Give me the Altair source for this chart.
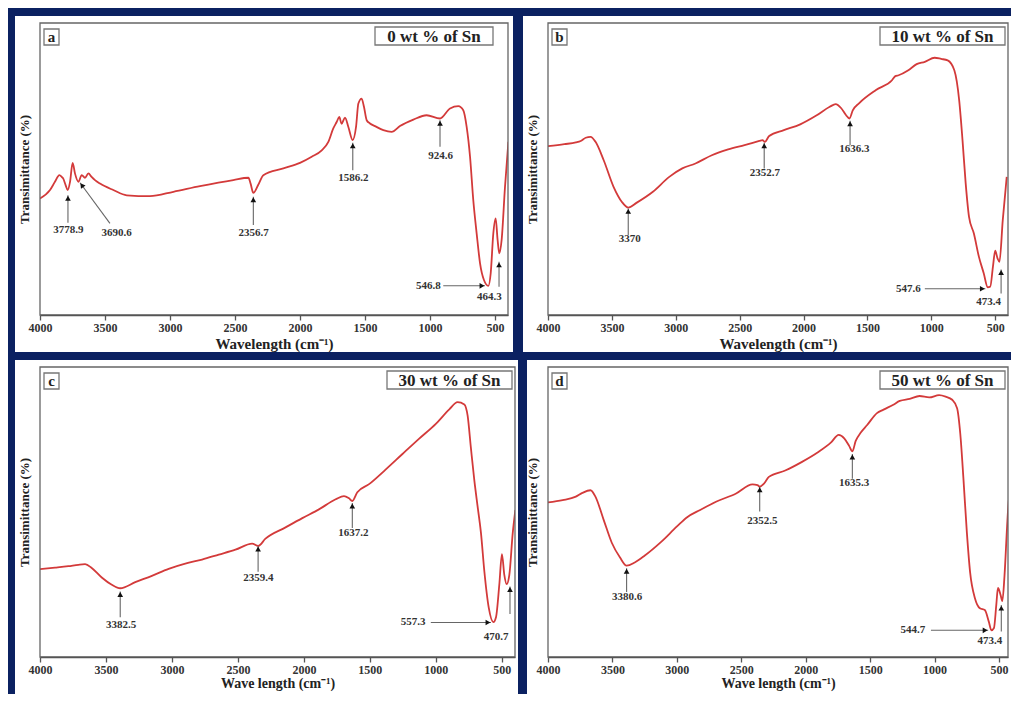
import altair as alt
import pandas as pd

FONT = "Liberation Serif"
NAVY = "#0b2161"
RED = "#d33a3a"

# ---------------- panel a : 0 wt % of Sn ----------------
a_wn = [4000, 3923, 3885, 3851, 3833, 3821, 3803, 3787, 3769, 3749, 3731, 3705, 3679, 3654,
        3628, 3603, 3577, 3538, 3436, 3333, 3154, 2974, 2769, 2513, 2397, 2380, 2359, 2321,
        2282, 2128, 2000, 1910, 1833, 1782, 1744, 1718, 1698, 1680, 1654, 1628, 1595, 1569,
        1551, 1526, 1508, 1487, 1462, 1423, 1359, 1295, 1231, 1128, 1026, 923, 846, 782,
        744, 718, 692, 667, 641, 615, 585, 551, 533, 513, 495, 480, 467, 449, 423, 397]
a_tr = [39.9, 42.8, 45.6, 47.9, 47.3, 46.7, 44.5, 42.8, 45.6, 52.1, 48.5, 45.6, 47.9, 47.0,
        48.5, 47.3, 46.2, 45.0, 42.8, 41.0, 40.7, 42.2, 44.1, 46.2, 47.0, 45.0, 41.8, 44.6,
        47.9, 50.2, 52.1, 54.2, 56.4, 59.3, 63.9, 66.1, 67.8, 65.5, 67.6, 64.4, 59.9, 64.4,
        72.4, 74.1, 71.3, 66.7, 65.6, 64.7, 63.3, 62.7, 64.7, 66.9, 68.4, 67.3, 70.7, 71.5,
        70.1, 64.4, 54.2, 39.3, 27.9, 17.7, 12.0, 10.0, 14.3, 27.9, 33.1, 25.7, 21.1, 25.7, 43.9, 59.3]
a_v_label = ["3778.9", "2356.7", "1586.2", "924.6", "464.3"]
a_v_tipx = [3785, 2359, 1594, 923, 469]
a_v_tipy = [41.0, 40.5, 59.0, 66.7, 18.2]
a_v_base = [31.6, 30.8, 49.6, 57.6, 9.7]
a_v_labx = [3782, 2356, 1590, 918, 544]
a_v_laby = [29.1, 28.2, 46.8, 54.4, 6.3]
a_h_label = ["546.8"]
a_h_labx = [1013]
a_h_start = [898]
a_h_tip = [577]
a_h_y = [10.0]
a_d_label = ["3690.6"]
a_d_tipx = [3692]
a_d_tipy = [45.3]
a_d_basex = [3462]
a_d_basey = [31.4]
a_d_labx = [3410]
a_d_laby = [28.2]

# ---------------- panel b : 10 wt % of Sn ----------------
b_wn = [4000, 3872, 3782, 3744, 3705, 3667, 3628, 3564, 3487, 3423, 3372, 3308, 3179, 3051,
        2949, 2846, 2718, 2590, 2462, 2346, 2321, 2303, 2269, 2154, 2026, 1897, 1795, 1749,
        1705, 1667, 1641, 1615, 1564, 1436, 1308, 1282, 1256, 1180, 1115, 1051, 974, 923,
        872, 820, 782, 756, 731, 705, 667, 628, 590, 559, 539, 518, 500, 482, 467, 441, 410]
b_tr = [57.8, 58.5, 59.1, 59.6, 60.7, 61.0, 59.3, 53.0, 43.9, 38.8, 36.8, 38.4, 42.2, 47.3,
        50.2, 51.9, 54.7, 56.7, 58.2, 59.6, 59.9, 59.3, 61.3, 63.3, 65.3, 68.4, 71.3, 72.2,
        70.8, 68.4, 67.3, 70.1, 72.6, 77.0, 80.4, 81.8, 82.1, 83.8, 85.9, 86.7, 88.1, 87.7,
        87.2, 83.8, 73.5, 59.9, 45.0, 33.6, 27.9, 20.0, 14.3, 9.5, 9.7, 16.5, 22.0, 19.4, 18.2, 32.5, 47.3]
b_v_label = ["3370", "2352.7", "1636.3", "473.4"]
b_v_tipx = [3372, 2308, 1636, 454]
b_v_tipy = [36.5, 59.0, 66.5, 15.6]
b_v_base = [27.4, 50.2, 58.2, 7.4]
b_v_labx = [3360, 2303, 1603, 551]
b_v_laby = [25.9, 48.7, 56.7, 4.6]
b_h_label = ["547.6"]
b_h_labx = [1180]
b_h_start = [1051]
b_h_tip = [577]
b_h_y = [9.0]

# ---------------- panel c : 30 wt % of Sn ----------------
c_wn = [4000, 3886, 3785, 3709, 3658, 3608, 3532, 3456, 3392, 3278, 3152, 3025, 2899, 2772,
        2645, 2519, 2392, 2347, 2291, 2139, 2012, 1886, 1759, 1696, 1658, 1633, 1595, 1506,
        1379, 1253, 1126, 1000, 898, 835, 784, 759, 734, 708, 683, 658, 632, 599, 564, 544,
        519, 499, 481, 463, 443, 417, 397]
c_tr = [30.3, 30.8, 31.3, 31.8, 32.0, 30.7, 27.4, 24.9, 23.7, 25.8, 28.0, 30.4, 32.2, 33.6,
        35.3, 37.0, 39.1, 38.3, 40.8, 44.7, 47.9, 50.9, 54.4, 55.5, 54.7, 53.8, 56.8, 59.6,
        64.7, 70.0, 75.3, 80.4, 85.4, 87.9, 87.1, 83.2, 72.0, 60.8, 51.8, 42.8, 29.4, 17.0, 12.0, 13.7,
        24.9, 35.5, 28.3, 25.1, 28.3, 42.8, 50.7]
c_v_label = ["3382.5", "2359.4", "1637.2", "470.7"]
c_v_tipx = [3392, 2347, 1633, 438]
c_v_tipy = [22.6, 38.3, 53.1, 24.3]
c_v_base = [13.7, 29.4, 44.5, 14.8]
c_v_labx = [3385, 2345, 1625, 544]
c_v_laby = [11.2, 27.1, 42.6, 7.0]
c_h_label = ["557.3"]
c_h_labx = [1172]
c_h_start = [1038]
c_h_tip = [582]
c_h_y = [11.9]

# ---------------- panel d : 50 wt % of Sn ----------------
d_wn = [4000, 3886, 3784, 3733, 3670, 3632, 3568, 3505, 3441, 3390, 3327, 3251, 3124, 2997,
        2920, 2819, 2692, 2540, 2413, 2374, 2357, 2324, 2286, 2159, 2032, 1905, 1803, 1744,
        1701, 1663, 1638, 1612, 1574, 1523, 1447, 1396, 1320, 1270, 1193, 1117, 1041, 965,
        914, 863, 825, 800, 775, 749, 724, 686, 648, 610, 579, 559, 539, 521, 508, 487, 474,
        457, 437, 426, 415]
d_tr = [53.3, 54.1, 55.3, 56.6, 57.5, 55.3, 47.3, 39.4, 34.3, 31.5, 32.6, 34.9, 39.6, 45.1,
        48.2, 50.7, 53.6, 56.4, 59.5, 59.3, 58.7, 59.8, 62.1, 64.3, 67.2, 70.6, 74.0, 76.6,
        75.4, 72.8, 70.9, 74.5, 77.3, 80.0, 84.1, 85.3, 87.0, 88.3, 89.0, 90.0, 89.5, 90.3,
        89.8, 88.7, 85.8, 76.8, 60.9, 42.8, 29.2, 20.2, 16.8, 16.2, 12.2, 9.2, 10.0, 17.9, 23.8, 21.3, 19.3,
        28.1, 45.1, 53.0, 57.0]
d_v_label = ["3380.6", "2352.5", "1635.3", "473.4"]
d_v_tipx = [3390, 2357, 1638, 482]
d_v_tipy = [30.6, 58.7, 70.0, 17.9]
d_v_base = [22.4, 50.2, 61.5, 8.8]
d_v_labx = [3385, 2336, 1625, 571]
d_v_laby = [20.7, 47.0, 60.0, 5.4]
d_h_label = ["544.7"]
d_h_labx = [1168]
d_h_start = [1028]
d_h_tip = [584]
d_h_y = [9.2]

x_ticks = [4000, 3500, 3000, 2500, 2000, 1500, 1000, 500]
y_title = "Transimittance (%)"


def panel(letter, sample, xtitle, wn, tr, vlab, vtx, vty, vbase, vlx, vly,
          hlab, hlx, hst, htip, hy, W, H, xmin, left_ext, right_ext, bot_ext,
          title_pad, title_size, diag=None):
    xs = alt.Scale(domain=[xmin, 4000], reverse=True, nice=False, zero=False)
    ys = alt.Scale(domain=[0, 100], nice=False, zero=False)
    xaxis = alt.Axis(values=x_ticks, format="d", title=xtitle, grid=False,
                     labelFont=FONT, labelFontWeight="bold", labelFontSize=12,
                     labelColor="#333", labelPadding=2, tickColor="#555", tickSize=5,
                     tickWidth=1.3, domainColor="#555", domainWidth=1.5,
                     titleFont=FONT, titleFontWeight="bold", titleFontSize=title_size,
                     titleColor="#222", titlePadding=title_pad, zindex=1,
                     labelOverlap=False, labelFlush=False)
    yaxis = alt.Axis(title=y_title, labels=False, ticks=False, domain=False, grid=False,
                     titleFont=FONT, titleFontWeight="bold", titleFontSize=13,
                     titleColor="#222", titlePadding=9, zindex=1)

    one = alt.Data(values=[{}])
    bg = alt.Chart(one).mark_rect(color="white").encode(
        x=alt.value(-left_ext), x2=alt.value(W + right_ext),
        y=alt.value(-7), y2=alt.value(H + bot_ext))
    frame = alt.Chart(one).mark_rect(filled=False, stroke="#666", strokeWidth=1.3).encode(
        x=alt.value(0), x2=alt.value(W), y=alt.value(0), y2=alt.value(H))

    df = pd.DataFrame({"wn": wn, "T": tr})
    line = alt.Chart(df).mark_line(color=RED, strokeWidth=1.8, clip=True,
                                   interpolate="monotone").encode(
        x=alt.X("wn:Q", scale=xs, axis=xaxis),
        y=alt.Y("T:Q", scale=ys, axis=yaxis))

    vdf = pd.DataFrame({"label": vlab, "tx": vtx, "ty": vty, "base": vbase,
                        "lx": vlx, "ly": vly})
    vrule = alt.Chart(vdf).mark_rule(color="#666", strokeWidth=1.1).encode(
        x="tx:Q", y="ty:Q", y2="base:Q")
    vhead = alt.Chart(vdf).mark_point(shape="triangle-up", filled=True, color="#111",
                                      size=32, opacity=1, yOffset=3).encode(
        x="tx:Q", y="ty:Q")
    vtext = alt.Chart(vdf).mark_text(font=FONT, fontWeight="bold", fontSize=11,
                                     color="#333", baseline="middle", align="center").encode(
        x="lx:Q", y="ly:Q", text="label:N")

    hdf = pd.DataFrame({"label": hlab, "lx": hlx, "st": hst, "tip": htip, "y": hy})
    hrule = alt.Chart(hdf).mark_rule(color="#666", strokeWidth=1.1).encode(
        x="st:Q", x2="tip:Q", y="y:Q")
    hhead = alt.Chart(hdf).mark_point(shape="triangle-right", filled=True, color="#111",
                                      size=32, opacity=1, xOffset=-3).encode(
        x="tip:Q", y="y:Q")
    htext = alt.Chart(hdf).mark_text(font=FONT, fontWeight="bold", fontSize=11,
                                     color="#333", baseline="middle", align="center").encode(
        x="lx:Q", y="y:Q", text="label:N")

    box1 = alt.Chart(one).mark_rect(fill="white", stroke="#777", strokeWidth=1.3).encode(
        x=alt.value(4), x2=alt.value(19), y=alt.value(6), y2=alt.value(22))
    t1 = alt.Chart(one).mark_text(text=letter, font=FONT, fontWeight="bold", fontSize=15,
                                  color="#222", baseline="middle", align="center").encode(
        x=alt.value(11.5), y=alt.value(13.5))
    bx2 = W - 133 if letter == "a" else W - 128
    bw = 118 if letter == "a" else 125
    box2 = alt.Chart(one).mark_rect(fill="white", stroke="#777", strokeWidth=1.3).encode(
        x=alt.value(bx2), x2=alt.value(bx2 + bw), y=alt.value(4), y2=alt.value(22))
    t2 = alt.Chart(one).mark_text(text=sample, font=FONT, fontWeight="bold", fontSize=17,
                                  color="#222", baseline="middle", align="center").encode(
        x=alt.value(bx2 + bw / 2), y=alt.value(13.5))

    layers = [bg, line, frame, vrule, vhead, vtext, hrule, hhead, htext]
    if diag is not None:
        ddf = pd.DataFrame(diag)
        drule = alt.Chart(ddf).mark_rule(color="#666", strokeWidth=1.1).encode(
            x="tx:Q", y="ty:Q", x2="bx:Q", y2="by:Q")
        dhead = alt.Chart(ddf).mark_point(shape="triangle-up", filled=True, color="#111",
                                          size=32, opacity=1, angle=324,
                                          xOffset=1.8, yOffset=2.4).encode(
            x="tx:Q", y="ty:Q")
        dtext = alt.Chart(ddf).mark_text(font=FONT, fontWeight="bold", fontSize=11,
                                         color="#333", baseline="middle", align="center").encode(
            x="lx:Q", y="ly:Q", text="label:N")
        layers += [drule, dhead, dtext]
    layers += [box1, t1, box2, t2]
    return alt.layer(*layers).properties(width=W, height=H)


pa = panel("a", "0 wt % of Sn", "Wavelength (cm⁻¹)", a_wn, a_tr,
           a_v_label, a_v_tipx, a_v_tipy, a_v_base, a_v_labx, a_v_laby,
           a_h_label, a_h_labx, a_h_start, a_h_tip, a_h_y,
           W=468, H=292, xmin=400, left_ext=25, right_ext=5, bot_ext=37, title_pad=3,
           title_size=15,
           diag={"label": a_d_label, "tx": a_d_tipx, "ty": a_d_tipy, "bx": a_d_basex,
                 "by": a_d_basey, "lx": a_d_labx, "ly": a_d_laby})
pb = panel("b", "10 wt % of Sn", "Wavelength (cm⁻¹)", b_wn, b_tr,
           b_v_label, b_v_tipx, b_v_tipy, b_v_base, b_v_labx, b_v_laby,
           b_h_label, b_h_labx, b_h_start, b_h_tip, b_h_y,
           W=460, H=292, xmin=400, left_ext=25, right_ext=3, bot_ext=37, title_pad=3,
           title_size=15)
pc = panel("c", "30 wt % of Sn", "Wave length (cm⁻¹)", c_wn, c_tr,
           c_v_label, c_v_tipx, c_v_tipy, c_v_base, c_v_labx, c_v_laby,
           c_h_label, c_h_labx, c_h_start, c_h_tip, c_h_y,
           W=475, H=290, xmin=400, left_ext=25, right_ext=3, bot_ext=37, title_pad=1,
           title_size=14)
pd_ = panel("d", "50 wt % of Sn", "Wave length (cm⁻¹)", d_wn, d_tr,
            d_v_label, d_v_tipx, d_v_tipy, d_v_base, d_v_labx, d_v_laby,
            d_h_label, d_h_labx, d_h_start, d_h_tip, d_h_y,
            W=460, H=290, xmin=430, left_ext=21, right_ext=3, bot_ext=37, title_pad=1,
            title_size=14)

chart = alt.concat(pa, pb, pc, pd_, columns=2, spacing={"row": 52, "column": 33},
                   bounds="flush").properties(
    background=NAVY, padding={"left": 7, "top": 8, "right": 0, "bottom": 0}
).configure_view(stroke=None)

chart.save("out.html", embed_options={"renderer": "svg", "actions": False})
